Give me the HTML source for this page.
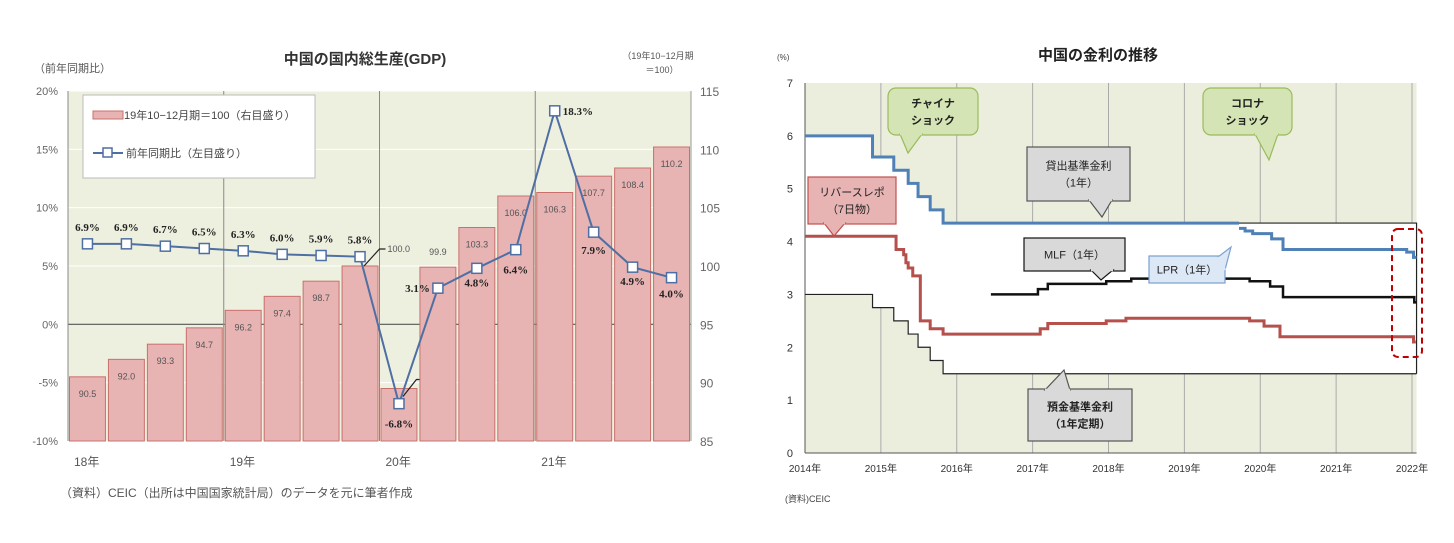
<!DOCTYPE html>
<html><head><meta charset="utf-8">
<style>
html,body{margin:0;padding:0;background:#fff;}
svg{display:block;font-family:"Liberation Sans","Noto Sans CJK JP",sans-serif;}
</style></head>
<body>
<svg id="root" width="1454" height="543" viewBox="0 0 1454 543">
 <g id="left"></g>
 <g id="right"></g>
</svg>
<script>
// ---- GDP chart data ----
const gdpQuarters = ["18Q1","18Q2","18Q3","18Q4","19Q1","19Q2","19Q3","19Q4","20Q1","20Q2","20Q3","20Q4","21Q1","21Q2","21Q3","21Q4"];
const gdpIndex = [90.5,92.0,93.3,94.7,96.2,97.4,98.7,100.0,89.5,99.9,103.3,106.0,106.3,107.7,108.4,110.2];
const gdpYoY = [6.9,6.9,6.7,6.5,6.3,6.0,5.9,5.8,-6.8,3.1,4.8,6.4,18.3,7.9,4.9,4.0];
const leftTicks = ["-10%","-5%","0%","5%","10%","15%","20%"];
const leftTickVals = [-10,-5,0,5,10,15,20];
const rightTicks = ["85","90","95","100","105","110","115"];
const rightTickVals = [85,90,95,100,105,110,115];
const yearLabels = ["18年","19年","20年","21年"];

// ---- Rate chart data (step series: [year, value]) ----
const lendingRate = [[2014,6.0],[2014.89,5.6],[2015.17,5.35],[2015.36,5.1],[2015.49,4.85],[2015.65,4.6],[2015.82,4.35],[2019.72,4.35]];
const lprRate = [[2019.72,4.25],[2019.8,4.2],[2019.9,4.15],[2020.15,4.05],[2020.3,3.85],[2021.93,3.8],[2022.02,3.7],[2022.06,3.7]];
const reverseRepo = [[2014,4.1],[2015.2,3.85],[2015.3,3.75],[2015.33,3.6],[2015.36,3.5],[2015.42,3.35],[2015.52,2.5],[2015.65,2.35],[2015.82,2.25],[2017.1,2.35],[2017.2,2.45],[2017.97,2.5],[2018.23,2.55],[2019.86,2.5],[2020.05,2.4],[2020.26,2.2],[2022.02,2.1],[2022.05,2.1]];
const mlfRate = [[2016.45,3.0],[2017.07,3.1],[2017.2,3.2],[2017.97,3.25],[2018.3,3.3],[2019.86,3.25],[2020.13,3.15],[2020.3,2.95],[2022.03,2.85],[2022.06,2.85]];
const depositRate = [[2014,3.0],[2014.89,2.75],[2015.17,2.5],[2015.36,2.25],[2015.49,2.0],[2015.65,1.75],[2015.82,1.5],[2022.06,1.5]];
const rateYears = [2014,2015,2016,2017,2018,2019,2020,2021,2022];
const rateTicks = [0,1,2,3,4,5,6,7];

const NS="http://www.w3.org/2000/svg";
function mk(parent,tag,attrs,text){const e=document.createElementNS(NS,tag);for(const k in attrs)e.setAttribute(k,attrs[k]);if(text!==undefined)e.textContent=text;parent.appendChild(e);return e;}

// ===== LEFT =====
const L=document.getElementById('left');
const px0=68,px1=691,py0=91,py1=441;
const yL=v=>py1-(v+10)/30*(py1-py0);
const yR=v=>py1-(v-85)/30*(py1-py0);
const slot=(px1-px0)/gdpQuarters.length;
const xC=i=>px0+slot*(i+0.5);
let e;
e=mk(L,'rect',{x:px0,y:py0,width:px1-px0,height:py1-py0,fill:'#eef0df'});

leftTickVals.forEach((v,i)=>{
 e=mk(L,'line',{x1:px0,x2:px1,y1:yL(v),y2:yL(v),stroke:v===0?'#555':'#fff','stroke-width':v===0?1.2:1});
 
 e=mk(L,'text',{x:58,y:yL(v)+4,'text-anchor':'end','font-size':11,fill:'#666'},leftTicks[i]);
 
});
rightTickVals.forEach((v,i)=>{
 e=mk(L,'text',{x:700,y:yR(v)+5,'font-size':12,fill:'#666'},rightTicks[i]);
 
});
[0,4,8,12].forEach((q,k)=>{
 e=mk(L,'line',{x1:px0+slot*q,x2:px0+slot*q,y1:py0,y2:py1,stroke:'#888','stroke-width':1});
 
 e=mk(L,'text',{x:px0+slot*q+6,y:466,'text-anchor':'start','font-size':12,fill:'#555'},yearLabels[k]);
 
});
gdpIndex.forEach((v,i)=>{
 e=mk(L,'rect',{x:px0+slot*i+1.5,y:yR(v),width:slot-3,height:py1-yR(v),fill:'#e7b3b3',stroke:'#c9706c','stroke-width':1});
 
 let lx=xC(i),ly=yR(v)+20,anc='middle';
 if(i===7){lx=xC(i)+slot/2+8;ly=yR(v)-14;anc='start';}
 if(i===8){lx=xC(i)+slot/2+6;ly=yR(v)-6;anc='start';}
 if(i===9){ly=yR(v)-12;}
 e=mk(L,'text',{x:lx,y:ly,'text-anchor':anc,'font-size':9,fill:'#555'},v.toFixed(1));
 
 if(i===7||i===8){
  e=mk(L,'polyline',{points:(lx-2)+','+(ly-3)+' '+(lx-8)+','+(ly-3)+' '+(xC(i)+4)+','+(yR(v)+(i===7?0:8)),fill:'none',stroke:'#222','stroke-width':1.2});
  
 }
});
e=mk(L,'line',{x1:px1,x2:px1,y1:py0,y2:py1,stroke:'#999'});

e=mk(L,'polyline',{points:gdpYoY.map((v,i)=>xC(i)+','+yL(v)).join(' '),fill:'none',stroke:'#4e6fa3','stroke-width':2});

gdpYoY.forEach((v,i)=>{
 e=mk(L,'rect',{x:xC(i)-5,y:yL(v)-5,width:10,height:10,fill:'#fff',stroke:'#4e6fa3','stroke-width':1.5});
 
 let dx=0,dy=-13,anc='middle';
 if(i===8){dy=24;}
 if(i===9){dx=-8;dy=4;anc='end';}
 if(i===10){dy=18;}
 if(i===11){dy=24;}
 if(i===12){dx=8;dy=4;anc='start';}
 if(i===13){dy=22;}
 if(i===14){dy=18;}
 if(i===15){dy=20;}
 e=mk(L,'text',{x:xC(i)+dx,y:yL(v)+dy,'text-anchor':anc,'font-size':11,'font-weight':'bold',fill:'#222','font-family':'"Liberation Serif",serif'},v.toFixed(1)+'%');
 
});
// legend
e=mk(L,'rect',{x:83,y:95,width:232,height:83,fill:'#fff',stroke:'#bbb'});

e=mk(L,'rect',{x:93,y:111,width:30,height:8,fill:'#e7b3b3',stroke:'#c9706c'});

e=mk(L,'text',{x:124,y:119,'font-size':11,fill:'#444'},'19年10−12月期＝100（右目盛り）');

e=mk(L,'line',{x1:93,x2:123,y1:153,y2:153,stroke:'#4e6fa3','stroke-width':2});

e=mk(L,'rect',{x:103,y:148,width:9,height:9,fill:'#fff',stroke:'#4e6fa3','stroke-width':1.5});

e=mk(L,'text',{x:126,y:157,'font-size':11,fill:'#444'},'前年同期比（左目盛り）');

e=mk(L,'text',{x:365,y:64,'text-anchor':'middle','font-size':15,'font-weight':'bold',fill:'#333'},'中国の国内総生産(GDP)');

e=mk(L,'text',{x:34,y:72,'font-size':11,fill:'#555'},'（前年同期比）');

e=mk(L,'text',{x:658,y:59,'text-anchor':'middle','font-size':9,fill:'#555'},'（19年10−12月期');

e=mk(L,'text',{x:662,y:73,'text-anchor':'middle','font-size':9,fill:'#555'},'＝100）');

e=mk(L,'text',{x:60,y:497,'font-size':12,fill:'#555'},'（資料）CEIC（出所は中国国家統計局）のデータを元に筆者作成');


// ===== RIGHT =====
const R=document.getElementById('right');
const rx0=805,rx1=1412,ry0=83,ry1=453;
const X=t=>rx0+(t-2014)/8*(rx1-rx0);
const Y=v=>ry1-v/7*(ry1-ry0);
const endT=2022.06;
function stepPts(arr){let p=[];arr.forEach((d,i)=>{if(i>0)p.push([X(d[0]),Y(arr[i-1][1])]);p.push([X(d[0]),Y(d[1])]);});return p;}
e=mk(R,'rect',{x:rx0,y:ry0,width:X(endT)-rx0,height:ry1-ry0,fill:'#eceedd'});

rateYears.forEach(t=>{
 e=mk(R,'line',{x1:X(t),x2:X(t),y1:ry0,y2:ry1,stroke:'#aaa','stroke-width':1});
 
});
const upper=stepPts(lendingRate).concat([[X(endT),Y(4.35)]]);
const lower=stepPts(depositRate).reverse();
e=mk(R,'polygon',{points:upper.concat(lower).map(p=>p.join(',')).join(' '),fill:'#fff'});

e=mk(R,'polyline',{points:[[X(2019.72),Y(4.35)],[X(endT),Y(4.35)],[X(endT),Y(1.5)]].map(p=>p.join(',')).join(' '),fill:'none',stroke:'#222','stroke-width':1.2});

e=mk(R,'line',{x1:rx0,x2:rx0,y1:ry0,y2:ry1,stroke:'#555'});

e=mk(R,'line',{x1:rx0,x2:X(endT),y1:ry1,y2:ry1,stroke:'#555'});

rateTicks.forEach(v=>{
 e=mk(R,'text',{x:793,y:Y(v)+4,'text-anchor':'end','font-size':11,fill:'#333'},String(v));
 
});
rateYears.forEach(t=>{
 e=mk(R,'text',{x:X(t),y:472,'text-anchor':'middle','font-size':10,fill:'#333'},t+'年');
 
});
function series(arr,color,w,name){
 e=mk(R,'polyline',{points:stepPts(arr).map(p=>p.join(',')).join(' '),fill:'none',stroke:color,'stroke-width':w});
 
}
series(depositRate,'#222',1.2,'deposit-rate-line');
series(mlfRate,'#111',2.5,'mlf-rate-line');
series(reverseRepo,'#b5504c',3,'reverse-repo-line');
series(lendingRate,'#4f81b6',3,'lending-rate-line');
series(lprRate,'#4f81b6',3,'lpr-line');
function callout(name,x,y,w,h,tail,fill,stroke,lines,rx,fs,bold){
 const g=mk(R,'g',{});
 
 mk(g,'rect',{x,y,width:w,height:h,rx:rx,fill,stroke,'stroke-width':1.2});
 mk(g,'polygon',{points:tail.map(p=>p.join(',')).join(' '),fill,stroke,'stroke-width':1.2});
 mk(g,'line',{x1:tail[0][0],y1:tail[0][1],x2:tail[2][0],y2:tail[2][1],stroke:fill,'stroke-width':2.5});
 lines.forEach((t,i)=>mk(g,'text',{x:x+w/2,y:y+h/2+(i-(lines.length-1)/2)*17+4,'text-anchor':'middle','font-size':fs,'font-weight':bold?'bold':'normal',fill:'#222'},t));
}
callout('china-shock-callout',888,88,90,47,[[900,134],[908,153],[922,134]],'#d5e4b4','#9bbb59',['チャイナ','ショック'],8,11,true);
callout('corona-shock-callout',1203,88,89,47,[[1255,134],[1269,160],[1278,134]],'#d5e4b4','#9bbb59',['コロナ','ショック'],8,11,true);
callout('lending-rate-callout',1027,147,103,54,[[1089,200],[1102,217],[1112,200]],'#d9d9d9','#555',['貸出基準金利','（1年）'],0,11,false);
callout('reverse-repo-callout',808,177,88,47,[[824,223],[834,236],[845,223]],'#e7b3b3','#c0504d',['リバースレポ','（7日物）'],0,11,false);
callout('mlf-callout',1024,238,101,33,[[1091,270],[1101,280],[1113,270]],'#d9d9d9','#111',['MLF（1年）'],0,11,false);
callout('lpr-callout',1149,256,76,27,[[1218,257],[1231,247],[1225,270]],'#dce8f5','#7aa1cf',['LPR（1年）'],0,11,false);
callout('deposit-rate-callout',1028,389,104,52,[[1045,390],[1064,370],[1070,390]],'#d9d9d9','#555',['預金基準金利','（1年定期）'],0,11,true);
e=mk(R,'rect',{x:1392,y:229,width:30,height:128,rx:6,fill:'none',stroke:'#c00000','stroke-width':2,'stroke-dasharray':'6,4'});

e=mk(R,'text',{x:1098,y:60,'text-anchor':'middle','font-size':15,'font-weight':'bold',fill:'#222'},'中国の金利の推移');

e=mk(R,'text',{x:777,y:60,'font-size':8,fill:'#444'},'(%)');

e=mk(R,'text',{x:785,y:502,'font-size':9,fill:'#444'},'(資料)CEIC');

</script>
</body></html>
